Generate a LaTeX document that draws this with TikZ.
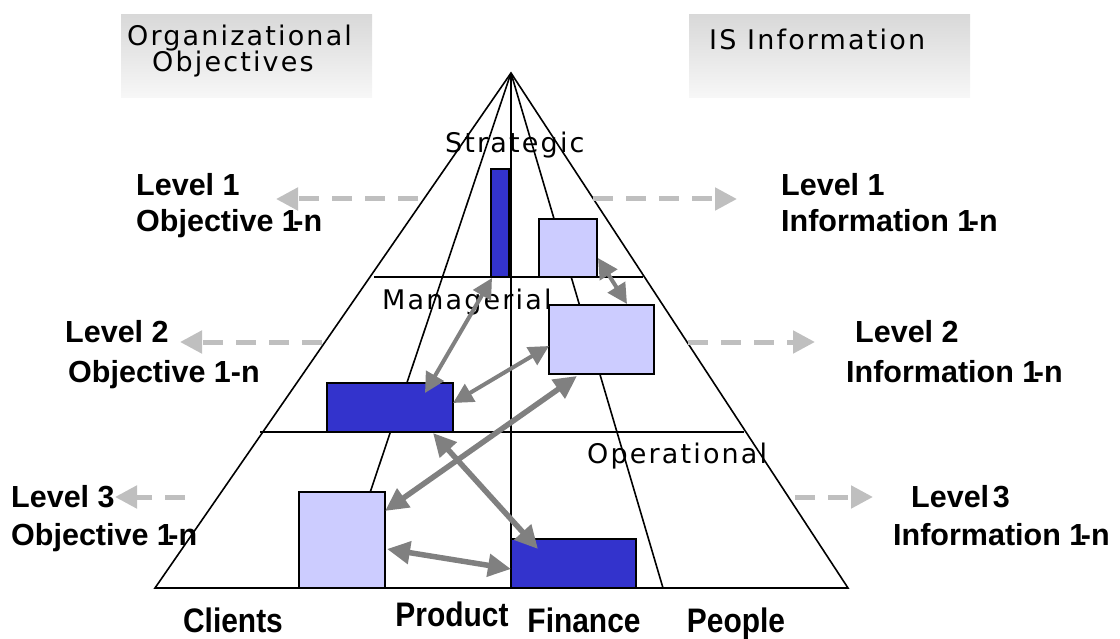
\documentclass[tikz,border=0pt]{standalone}
\usepackage{fontspec}
\setmainfont{Liberation Sans}
\newfontfamily\vfont[LetterSpace=8]{DejaVu Sans}
\newfontfamily\condfont[FakeStretch=0.88]{Liberation Sans}
\usetikzlibrary{arrows.meta}
\definecolor{darkblue}{RGB}{51,51,204}
\definecolor{lightblue}{RGB}{204,204,255}
\definecolor{arrowgray}{RGB}{128,128,128}
\definecolor{dashgray}{RGB}{191,191,191}
\begin{document}
\begin{tikzpicture}[x=1pt,y=-1pt,
  pyr/.style={line width=1.6pt, black},
  boxx/.style={draw=black, line width=1.6pt, inner sep=0pt, outer sep=0pt},
  darkbox/.style={boxx, fill=darkblue},
  lightbox/.style={boxx, fill=lightblue},
  hdr/.style={inner sep=0pt, outer sep=0pt, top color=black!15, bottom color=black!3},
  link/.style={arrowgray, line width=4pt, {Triangle[length=20pt,width=20pt]}-{Triangle[length=20pt,width=20pt]}},
  thicklink/.style={arrowgray, line width=5.5pt, {Triangle[length=23pt,width=22pt]}-{Triangle[length=23pt,width=22pt]}},
  lvl/.style={dashgray, line width=5pt, dash pattern=on 20pt off 13pt, -{Triangle[length=22pt,width=22pt]}},
  lab/.style={font={\fontsize{30.5}{34}\selectfont\bfseries}, anchor=base west, inner sep=0pt},
  layer/.style={font={\vfont\fontsize{27}{31}\selectfont}, anchor=base west, inner sep=0pt},
  cat/.style={font={\condfont\fontsize{34}{38}\selectfont\bfseries}, anchor=base, inner sep=0pt}
]
\useasboundingbox (0,0) rectangle (1120,639);

% header boxes
\node[hdr, minimum width=251pt, minimum height=83pt] (hb1) at (246.5,56.5) {};
\node[hdr, minimum width=281pt, minimum height=83pt] (hb2) at (829.5,56.5) {};
\node[layer] (ht1) at (127,46) {Organizational};
\node[layer] (ht2) at (152,72) {Objectives};
\node[layer] (ht3) at (709,50) {IS Information};

% pyramid
\coordinate (apex) at (511,73);
\coordinate (bl) at (155,588);
\coordinate (br) at (848,588);
\coordinate (d1) at (338,588);
\coordinate (d2) at (511,588);
\coordinate (d3) at (663,588);
\coordinate (h1l) at (374,277);
\coordinate (h1r) at (643,277);
\coordinate (h2l) at (260,432);
\coordinate (h2r) at (744,432);
\draw[pyr] (bl) -- (apex) -- (br) -- cycle;
\draw[pyr] (apex) -- (d1);
\draw[pyr] (apex) -- (d2);
\draw[pyr] (apex) -- (d3);
\draw[pyr] (h1l) -- (h1r);
\draw[pyr] (h2l) -- (h2r);

% layer names
\node[layer] (strat) at (445,153) {Strategic};
\node[layer] (manag) at (382,310) {Managerial};
\node[layer] (oper) at (587,463) {Operational};

% boxes
\node[darkbox, minimum width=18pt, minimum height=108pt] (b1) at (500,223) {};
\node[lightbox, minimum width=58pt, minimum height=58pt] (b2) at (568,248) {};
\node[lightbox, minimum width=105pt, minimum height=69pt] (b3) at (601.5,339.5) {};
\node[darkbox, minimum width=126pt, minimum height=49pt] (b4) at (390,407.5) {};
\node[lightbox, minimum width=86pt, minimum height=96pt] (b5) at (342,540) {};
\node[darkbox, minimum width=125pt, minimum height=49pt] (b6) at (573.5,563.5) {};

% link arrows
\coordinate (a1s) at (598,258);   \coordinate (a1e) at (627,304);
\coordinate (a2s) at (492,278);   \coordinate (a2e) at (425,393);
\coordinate (a3s) at (453,403);   \coordinate (a3e) at (549,346);
\coordinate (a4s) at (577,376);   \coordinate (a4e) at (385,511);
\coordinate (a5s) at (433,433);   \coordinate (a5e) at (538,549);
\coordinate (a6s) at (387,549);   \coordinate (a6e) at (511,569);
\draw[link] (a1s) -- (a1e);
\draw[link] (a2s) -- (a2e);
\draw[link] (a3s) -- (a3e);
\draw[thicklink] (a4s) -- (a4e);
\draw[thicklink] (a5s) -- (a5e);
\draw[thicklink] (a6s) -- (a6e);

% level dashed arrows
\coordinate (l1s) at (418,199); \coordinate (l1e) at (276,199);
\coordinate (l2s) at (322,342); \coordinate (l2e) at (180,342);
\coordinate (l3s) at (185,497); \coordinate (l3e) at (115,497);
\coordinate (r1s) at (593,199); \coordinate (r1e) at (737,199);
\coordinate (r2s) at (688,342); \coordinate (r2e) at (815,342);
\coordinate (r3s) at (795,497); \coordinate (r3e) at (873,497);
\draw[lvl] (l1s) -- (l1e);
\draw[lvl] (l2s) -- (l2e);
\draw[lvl] (l3s) -- (l3e);
\draw[lvl] (r1s) -- (r1e);
\draw[lvl] (r2s) -- (r2e);
\draw[lvl] (r3s) -- (r3e);

% level labels
\node[lab] (ll1a) at (136,196) {Level 1};
\node[lab] (ll1b) at (136,232) {Objective 1\kern-0.18em-n};
\node[lab] (ll2a) at (65,342) {Level 2};
\node[lab] (ll2b) at (68,382) {Objective 1-n};
\node[lab] (ll3a) at (11,507) {Level 3};
\node[lab] (ll3b) at (11,545) {Objective 1\kern-0.18em-n};
\node[lab] (rl1a) at (781,196) {Level 1};
\node[lab] (rl1b) at (781,232) {Information 1\kern-0.18em-n};
\node[lab] (rl2a) at (855,342) {Level 2};
\node[lab] (rl2b) at (846,382) {Information 1\kern-0.18em-n};
\node[lab] (rl3a) at (911,507) {Level\kern0.12em 3};
\node[lab] (rl3b) at (893,545) {Information 1\kern-0.18em-n};

% categories
\node[cat] (c1) at (233,632) {Clients};
\node[cat] (c2) at (452,626) {Product};
\node[cat] (c3) at (584,632) {Finance};
\node[cat] (c4) at (736,632) {People};
\end{tikzpicture}
\end{document}
